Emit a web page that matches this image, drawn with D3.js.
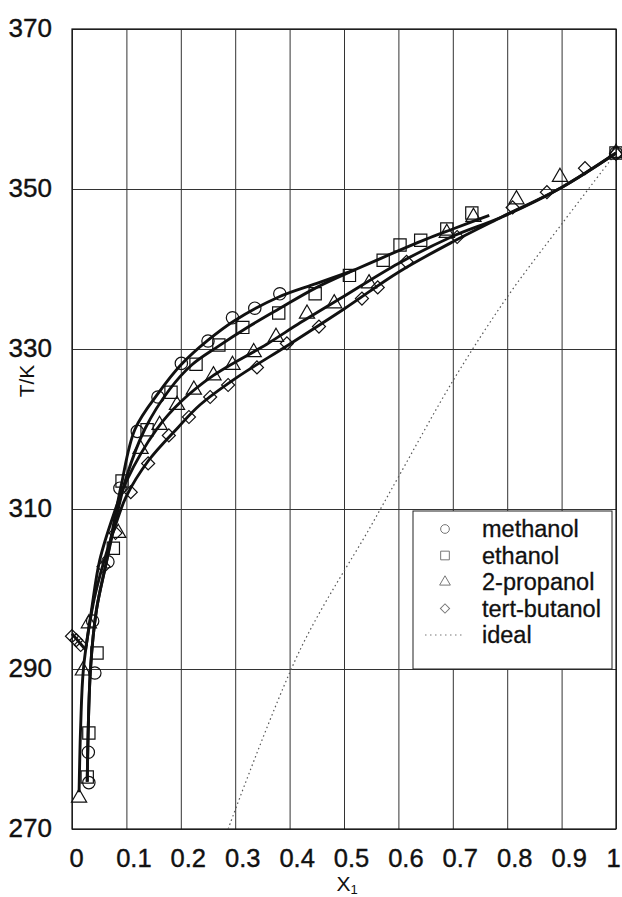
<!DOCTYPE html>
<html>
<head>
<meta charset="utf-8">
<script src="https://cdn.jsdelivr.net/npm/d3@7"></script>
<style>
  body { margin: 0; background: #fff; }
  text { font-family: "Liberation Sans", Arial, sans-serif; fill: #111; }
</style>
</head>
<body>
<div id="chart"></div>
<script>
// tick values
const xTicks = [0, 0.1, 0.2, 0.3, 0.4, 0.5, 0.6, 0.7, 0.8, 0.9, 1];
const yTicks = [270, 290, 310, 330, 350, 370];

// measured points [x1, T/K]
const methanolPts = [[0.031, 275.8], [0.030, 279.6], [0.042, 289.5], [0.038, 296], [0.066, 303.4], [0.088, 312.6],
  [0.120, 319.7], [0.158, 324], [0.201, 328.2], [0.250, 331], [0.295, 333.9], [0.336, 335.1], [0.382, 336.9], [1.0, 354.5]];
const ethanolPts = [[0.028, 276.5], [0.031, 282], [0.046, 292], [0.076, 305.1], [0.092, 313.5], [0.138, 319.9],
  [0.182, 324.6], [0.228, 328.1], [0.270, 330.5], [0.314, 332.7], [0.380, 334.5], [0.447, 336.9], [0.510, 339.2],
  [0.572, 341.1], [0.603, 343], [0.641, 343.6], [0.689, 345], [0.735, 347], [1.0, 354.5]];
const propanolPts = [[0.013, 273.9], [0.020, 289.8], [0.031, 295.7], [0.085, 307], [0.126, 317.5], [0.161, 320.5],
  [0.193, 323], [0.224, 324.9], [0.260, 326.7], [0.295, 328], [0.334, 329.6], [0.375, 331.5], [0.432, 334.4],
  [0.482, 335.7], [0.546, 338.2], [0.689, 344.5], [0.738, 346.5], [0.817, 348.7], [0.897, 351.5], [1.0, 354.5]];
const butanolPts = [[0.0, 294.1], [0.008, 293.6], [0.016, 293.0], [0.058, 302.8], [0.080, 307], [0.108, 312.1],
  [0.140, 315.7], [0.178, 319.2], [0.215, 321.5], [0.254, 324], [0.287, 325.5], [0.340, 327.7], [0.395, 330.7],
  [0.454, 332.8], [0.533, 336.3], [0.562, 337.7], [0.615, 340.9], [0.708, 344], [0.810, 347.7], [0.873, 349.6],
  [0.943, 352.6], [1.0, 354.4]];

// correlated curves
const methanolCurve = [[0.028, 275.9], [0.034, 290], [0.045, 297.4], [0.064, 303.6], [0.090, 312.8], [0.116, 320],
  [0.160, 324.6], [0.200, 328], [0.250, 331.1], [0.300, 333.6], [0.380, 336.5], [0.450, 338.2], [0.520, 339.9]];
const ethanolCurve = [[0.028, 275.9], [0.034, 290], [0.045, 297.4], [0.064, 303.6], [0.085, 310], [0.100, 314],
  [0.134, 320], [0.180, 325], [0.220, 328], [0.268, 330.3], [0.320, 332.6], [0.380, 335], [0.450, 337.7],
  [0.520, 339.9], [0.570, 341.4], [0.650, 343.7], [0.700, 345], [0.767, 346.7]];
const propanolCurve = [[0.013, 274.6], [0.016, 283], [0.021, 290], [0.036, 297.4], [0.051, 303.6], [0.075, 309],
  [0.100, 313.5], [0.156, 320], [0.200, 323.4], [0.260, 326.7], [0.358, 330.6], [0.420, 333.3], [0.500, 336.6],
  [0.600, 340.7], [0.700, 344.1], [0.790, 346.5], [0.900, 350.2], [1.0, 354.5]];
const butanolCurve = [[0.025, 292.4], [0.040, 298.5], [0.058, 303.3], [0.080, 308], [0.100, 311.6], [0.140, 316],
  [0.195, 320.2], [0.235, 323], [0.300, 326.3], [0.400, 330.6], [0.500, 335], [0.600, 339.6], [0.700, 343.4],
  [0.790, 346.5], [0.900, 350.2], [1.0, 354.5]];
const butanolFreeze = [[0.0, 294.4], [0.025, 292.4]];
const idealCurve = [[0.287, 270], [0.420, 292.5], [0.548, 307.7], [0.600, 314], [0.700, 326], [0.800, 336.5],
  [0.900, 345.6], [1.0, 354.5]];

const width = 622, height = 897;
const plotLeft = 72, plotRight = 616, plotTop = 29, plotBottom = 829;

const svg = d3.select("#chart").append("svg")
    .attr("width", width)
    .attr("height", height);

const x = d3.scaleLinear().domain([0, 1]).range([plotLeft, plotRight]);
const y = d3.scaleLinear().domain([270, 370]).range([plotBottom, plotTop]);

// grid
svg.append("g")
    .attr("transform", `translate(0, ${plotBottom})`)
    .call(d3.axisBottom(x).tickValues(xTicks).tickSize(-(plotBottom - plotTop)).tickFormat(""))
    .call(g => g.select(".domain").remove())
    .selectAll("line").attr("stroke", "#333").attr("stroke-width", 1);
svg.append("g")
    .attr("transform", `translate(${plotLeft}, 0)`)
    .call(d3.axisLeft(y).tickValues(yTicks).tickSize(-(plotRight - plotLeft)).tickFormat(""))
    .call(g => g.select(".domain").remove())
    .selectAll("line").attr("stroke", "#333").attr("stroke-width", 1);

// frame
svg.append("rect")
    .attr("x", plotLeft).attr("y", plotTop)
    .attr("width", plotRight - plotLeft).attr("height", plotBottom - plotTop)
    .attr("fill", "none").attr("stroke", "#111").attr("stroke-width", 1.2);

// axis labels
const xAxis = svg.append("g")
    .attr("transform", `translate(0, ${plotBottom})`)
    .call(d3.axisBottom(x).tickValues(xTicks).tickSize(0).tickPadding(20).tickFormat(d => String(d)));
xAxis.select(".domain").remove();
xAxis.selectAll("text").attr("font-size", 25.5)
    .attr("dx", d => d === 0 ? 4 : d === 1 ? -3 : 7)
    .style("font-family", "'Liberation Sans', Arial, sans-serif")
    .attr("fill", "#111").attr("stroke", "#111").attr("stroke-width", 0.4);

const yAxis = svg.append("g")
    .attr("transform", `translate(${plotLeft}, 0)`)
    .call(d3.axisLeft(y).tickValues(yTicks).tickSize(0).tickPadding(20));
yAxis.select(".domain").remove();
yAxis.selectAll("text").attr("font-size", 26).attr("dy", "0.28em")
    .style("font-family", "'Liberation Sans', Arial, sans-serif")
    .attr("fill", "#111").attr("stroke", "#111").attr("stroke-width", 0.4);

const xTitle = svg.append("text")
    .attr("x", 347).attr("y", 891)
    .attr("text-anchor", "middle")
    .attr("font-size", 21);
xTitle.append("tspan").text("X");
xTitle.append("tspan").attr("font-size", 13).attr("dy", 3).text("1");

svg.append("text")
    .attr("transform", "translate(34, 381) rotate(-90)")
    .attr("text-anchor", "middle")
    .attr("font-size", 21)
    .text("T/K");

// lines
const line = d3.line()
    .x(d => x(d[0]))
    .y(d => y(d[1]))
    .curve(d3.curveCatmullRom.alpha(0.5));

svg.append("path")
    .attr("d", line(idealCurve))
    .attr("fill", "none").attr("stroke", "#555").attr("stroke-width", 1.2)
    .attr("stroke-dasharray", "1.5,3");

[methanolCurve, ethanolCurve, propanolCurve, butanolCurve, butanolFreeze].forEach(c => {
    svg.append("path")
        .attr("d", line(c))
        .attr("fill", "none").attr("stroke", "#111").attr("stroke-width", 2.9)
        .attr("stroke-linejoin", "round");
});

// markers
const series = [
    {name: "methanol", pts: methanolPts, type: d3.symbolCircle, size: 120, rot: 0},
    {name: "ethanol", pts: ethanolPts, type: d3.symbolSquare, size: 150, rot: 0},
    {name: "2-propanol", pts: propanolPts, type: d3.symbolTriangle, size: 100, rot: 0},
    {name: "tert-butanol", pts: butanolPts, type: d3.symbolSquare, size: 85, rot: 45}
];

series.forEach(s => {
    svg.append("g").selectAll("path")
        .data(s.pts)
        .enter()
        .append("path")
        .attr("d", d3.symbol().type(s.type).size(s.size))
        .attr("transform", d => `translate(${x(d[0])}, ${y(d[1])}) rotate(${s.rot})`)
        .attr("fill", "none")
        .attr("stroke", "#111")
        .attr("stroke-width", 1.2);
});

// legend
const legend = svg.append("g").attr("transform", "translate(413, 511)");
legend.append("rect")
    .attr("width", 199).attr("height", 158)
    .attr("fill", "#fff").attr("stroke", "#222").attr("stroke-width", 1);

const legendRows = series.map(s => s.name).concat(["ideal"]);
legendRows.forEach((name, i) => {
    const ly = 18 + i * 26.5;
    const s = series[i];
    if (s) {
        legend.append("path")
            .attr("d", d3.symbol().type(s.type).size(s.size * 0.5))
            .attr("transform", `translate(32, ${ly}) rotate(${s.rot})`)
            .attr("fill", "none").attr("stroke", "#777").attr("stroke-width", 1);
    } else {
        legend.append("line")
            .attr("x1", 12).attr("x2", 50).attr("y1", ly).attr("y2", ly)
            .attr("stroke", "#777").attr("stroke-width", 1.2).attr("stroke-dasharray", "1.5,3.5");
    }
    legend.append("text")
        .attr("x", 69).attr("y", ly)
        .attr("dy", "0.35em")
        .attr("font-size", 23.5)
        .attr("stroke", "#111").attr("stroke-width", 0.3)
        .text(name);
});
</script>
</body>
</html>
